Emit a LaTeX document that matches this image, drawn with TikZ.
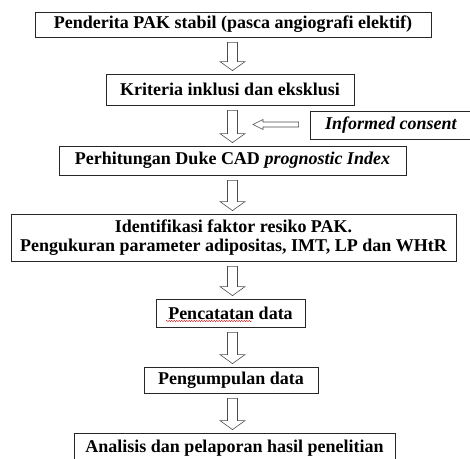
\documentclass[tikz,border=0pt]{standalone}
\usepackage{fontspec}
\setmainfont{Liberation Serif}
\usetikzlibrary{calc,decorations.pathmorphing}

% hollow block arrow going down from one box to the next
\newcommand{\hollowdown}[2]{%
	\draw[blockarrow] let \p1=(#1.south), \p2=(#2.north), \p3=(axis) in
		(\x3-5pt,\y1-5pt) -- (\x3+5pt,\y1-5pt) -- (\x3+5pt,\y2+12pt) -- (\x3+12.5pt,\y2+12pt)
		-- (\x3,\y2+3pt) -- (\x3-12.5pt,\y2+12pt) -- (\x3-5pt,\y2+12pt) -- cycle;
}

\begin{document}
\begin{tikzpicture}[x=1pt,y=-1pt,font=\fontsize{18}{19.5}\selectfont\bfseries]
	\tikzset{stage/.style={draw=black!85,line width=0.8pt,inner sep=0pt},
		blockarrow/.style={draw=black!70,line width=0.6pt,fill=white}}
	\useasboundingbox (0,0) rectangle (470,458);
	
	% Draw the boxes
	\node[stage,minimum width=396pt,minimum height=25pt] (pend) at (233,24.5) {Penderita PAK stabil (pasca angiografi elektif)};
	\node[stage,minimum width=248pt,minimum height=31pt] (krit) at (230,89.5) {Kriteria inklusi dan eksklusi};
	\node[stage,minimum width=162pt,minimum height=28pt] (inform) at (391,125) {\textit{Informed consent}};
	\node[stage,minimum width=347pt,minimum height=29pt] (duke) at (232.5,160.5) {Perhitungan Duke CAD \textit{prognostic Index}};
	\node[stage,minimum width=445pt,minimum height=47pt,align=center] (ident) at (233.5,237.5) {Identifikasi faktor resiko PAK.\\Pengukuran parameter adipositas, IMT, LP dan WHtR};
	\node[stage,minimum width=149pt,minimum height=28pt] (pcat) at (230.5,313) {Pencatatan data};
	\node[stage,minimum width=174pt,minimum height=26pt] (kumpul) at (231,380) {Pengumpulan data};
	\node[stage,minimum width=321pt,minimum height=30pt] (anls) at (234.5,448) {Analisis dan pelaporan hasil penelitian};
	
	% spell check line under Pencatatan
	\draw[red!80!black,line width=0.4pt,decorate,decoration={snake,amplitude=0.6pt,segment length=2.5pt}] (166,321) -- (252,321);
	
	% the down arrows
	\coordinate (axis) at (232.5,0);
	\foreach \a/\b in {pend/krit,krit/duke,duke/ident,ident/pcat,pcat/kumpul,kumpul/anls} {
		\hollowdown{\a}{\b}
	}
	
	% arrow from informed consent
	\coordinate (ctip) at (253,124.5);
	\draw[blockarrow] let \p1=(inform.west), \p2=(ctip) in
		(\x2,\y2) -- (\x2+10pt,\y2+5pt) -- (\x2+10pt,\y2+2.5pt) -- (\x1-11pt,\y2+2.5pt)
		-- (\x1-11pt,\y2-2.5pt) -- (\x2+10pt,\y2-2.5pt) -- (\x2+10pt,\y2-5pt) -- cycle;
\end{tikzpicture}
\end{document}
